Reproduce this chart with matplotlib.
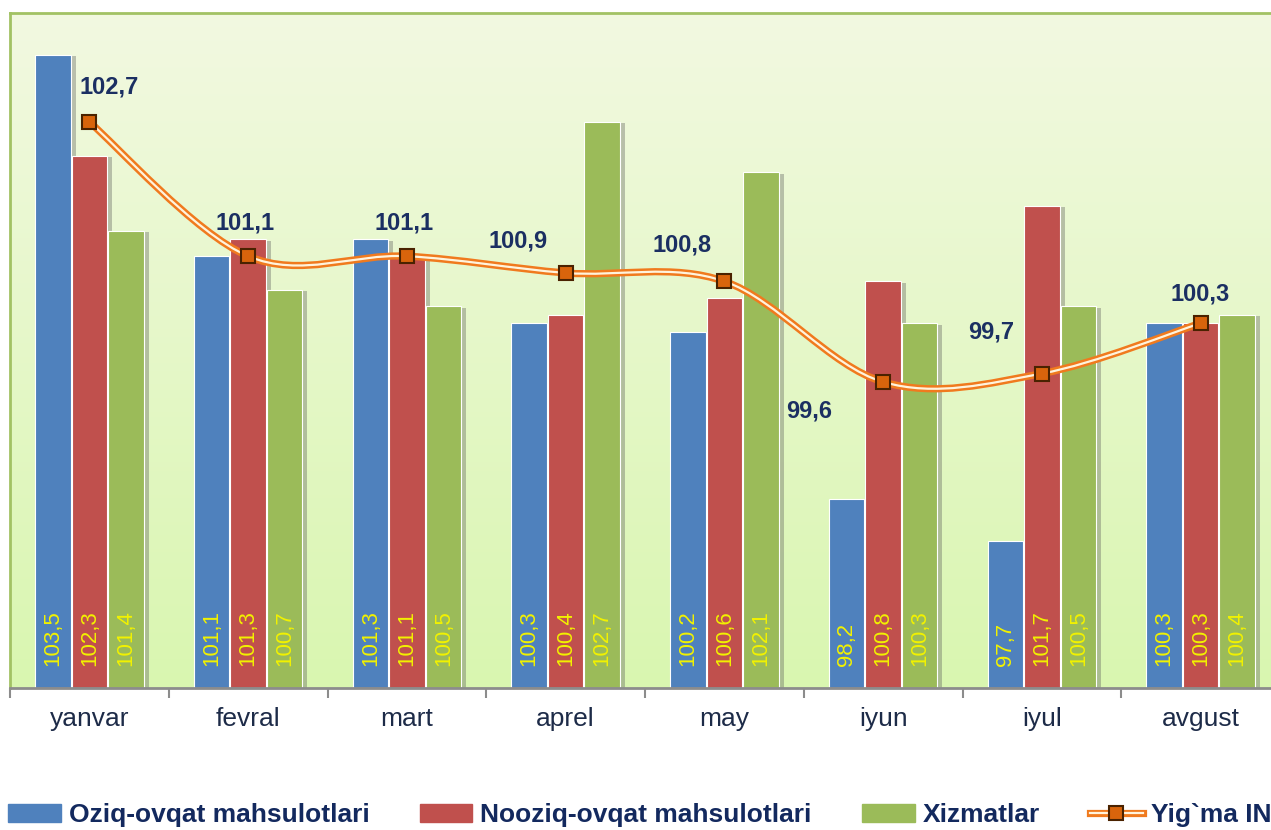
import numpy as np
import matplotlib
matplotlib.use('Agg')
import matplotlib.pyplot as plt
from matplotlib.path import Path
from matplotlib.patches import PathPatch, Patch
from matplotlib.lines import Line2D
import matplotlib.patheffects as pe

plt.rcParams['font.family'] = ['Liberation Sans', 'DejaVu Sans']

# data
months = ['yanvar', 'fevral', 'mart', 'aprel', 'may', 'iyun', 'iyul', 'avgust']
oziq = [103.5, 101.1, 101.3, 100.3, 100.2, 98.2, 97.7, 100.3]
nooziq = [102.3, 101.3, 101.1, 100.4, 100.6, 100.8, 101.7, 100.3]
xizmat = [101.4, 100.7, 100.5, 102.7, 102.1, 100.3, 100.5, 100.4]
ini = [102.7, 101.1, 101.1, 100.9, 100.8, 99.6, 99.7, 100.3]
series_names = ['Oziq-ovqat mahsulotlari', 'Nooziq-ovqat mahsulotlari', 'Xizmatlar', 'Yig`ma INI']

blue = '#4f81bd'
red = '#c0504d'
green = '#9bbb59'
orange = '#f07a1e'
navy = '#13295e'

ymin, ymax = 95.95, 104.0

fig = plt.figure(figsize=(12.71, 8.3), dpi=100)
ax = fig.add_axes([10 / 1271, 142 / 830, 1270 / 1271, 675 / 830])

# gradient background
grad = np.linspace(0, 1, 256).reshape(-1, 1)
cmap = matplotlib.colors.LinearSegmentedColormap.from_list('bg', ['#f2f9e1', '#d9f6b0'])
ax.imshow(grad, extent=[0, 1, 0, 1], transform=ax.transAxes, cmap=cmap,
          aspect='auto', zorder=0)

x = np.arange(len(months))
w = 0.225
shadow = [pe.SimplePatchShadow(offset=(3.5, -1), shadow_rgbFace='#555555', alpha=0.35), pe.Normal()]
for vals, off, col in [(oziq, -0.23, blue), (nooziq, 0.0, red), (xizmat, 0.23, green)]:
    heights = np.array(vals) - ymin
    bars = ax.bar(x + off, heights, w, bottom=ymin, color=col, edgecolor='white',
                  linewidth=0.8, zorder=2)
    for b in bars:
        b.set_path_effects(shadow)
    for xi, v in zip(x + off, vals):
        ax.annotate(f'{v:.1f}'.replace('.', ','), xy=(xi, 0), xycoords=('data', 'axes fraction'),
                    xytext=(0, 16), textcoords='offset points', rotation=90,
                    ha='center', va='bottom', color='#f2f200', fontsize=16, zorder=4)

# smoothed line (Catmull-Rom style bezier)
pts = np.column_stack([x, ini]).astype(float)
verts = [pts[0]]
codes = [Path.MOVETO]
n = len(pts)
for i in range(n - 1):
    p0 = pts[i - 1] if i > 0 else pts[i]
    p1 = pts[i]
    p2 = pts[i + 1]
    p3 = pts[i + 2] if i + 2 < n else pts[i + 1]
    c1 = p1 + (p2 - p0) / 6
    c2 = p2 - (p3 - p1) / 6
    verts += [c1, c2, p2]
    codes += [Path.CURVE4] * 3
path = Path(verts, codes)
ax.add_patch(PathPatch(path, fill=False, edgecolor=orange, lw=5.2, zorder=5, capstyle='round'))
ax.add_patch(PathPatch(path, fill=False, edgecolor='#fff3dc', lw=1.6, zorder=6, capstyle='round'))
ax.plot(x, ini, ls='none', marker='s', markersize=10, markerfacecolor='#d8640c',
        markeredgecolor='#4a2200', markeredgewidth=1.5, zorder=7)

label_offsets = [(20, 35), (-3, 33), (-3, 33), (-48, 32), (-42, 36), (-74, -29), (-51, 42), (0, 29)]
for xi, v, (dx, dy) in zip(x, ini, label_offsets):
    ax.annotate(f'{v:.1f}'.replace('.', ','), xy=(xi, v), xytext=(dx / 1.389, dy / 1.389),
                textcoords='offset points', ha='center', va='center', fontsize=17,
                fontweight='bold', color='#1b2f62', zorder=8)

ax.set_xlim(-0.5, 7.5)
ax.set_ylim(ymin, ymax)
ax.set_yticks([])
ax.set_xticks(np.arange(-0.5, 8, 1))
ax.set_xticklabels([])
ax.set_xticks(x, minor=True)
ax.set_xticklabels(months, minor=True, fontsize=19, color='#1d2b48')
ax.tick_params(axis='x', which='major', length=7, width=1.5, color='#8c8c8c')
ax.tick_params(axis='x', which='minor', length=0, pad=14)

for s in ['left', 'top', 'right']:
    ax.spines[s].set_color('#a2c264')
    ax.spines[s].set_linewidth(2)
ax.spines['bottom'].set_color('#8c8c8c')
ax.spines['bottom'].set_linewidth(2)
ax.spines['bottom'].set_zorder(3)

# legend
outer = Line2D([], [], color=orange, lw=5.2)
inner = Line2D([], [], color='#fff3dc', lw=1.6)
mark = Line2D([], [], ls='none', marker='s', markersize=10, markerfacecolor='#d8640c',
              markeredgecolor='#4a2200', markeredgewidth=1.5)
handles = [Patch(color=blue), Patch(color=red), Patch(color=green), (outer, inner, mark)]
fig.legend(handles, series_names, loc='center left', bbox_to_anchor=(8 / 1271, 15 / 830),
           ncol=4, frameon=False, prop=dict(weight='bold', size=19), labelcolor=navy,
           handlelength=2.0, handletextpad=0.3, columnspacing=1.9, borderpad=0,
           borderaxespad=0)

fig.savefig('out.png', dpi=100)
